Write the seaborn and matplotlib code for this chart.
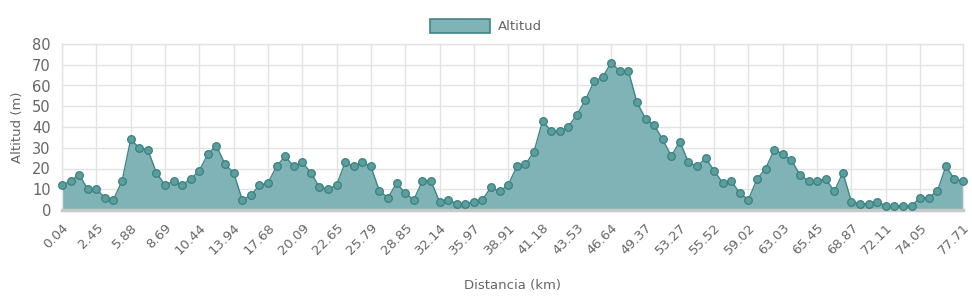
import matplotlib
matplotlib.use("Agg")
import matplotlib.pyplot as plt
import seaborn as sns
import pandas as pd
from matplotlib.patches import Patch

altitude = [12, 14, 17, 10, 10, 6, 5, 14, 34, 30, 29, 18, 12, 14, 12, 15, 19, 27, 31, 22,
            18, 5, 7, 12, 13, 21, 26, 21, 23, 18, 11, 10, 12, 23, 21, 23, 21, 9, 6, 13,
            8, 5, 14, 14, 4, 5, 3, 3, 4, 5, 11, 9, 12, 21, 22, 28, 43, 38, 38, 40,
            46, 53, 62, 64, 71, 67, 67, 52, 44, 41, 34, 26, 33, 23, 21, 25, 19, 13, 14, 8,
            5, 15, 20, 29, 27, 24, 17, 14, 14, 15, 9, 18, 4, 3, 3, 4, 2, 2, 2, 2,
            6, 6, 9, 21, 15, 14]
tick_labels = ["0.04", "2.45", "5.88", "8.69", "10.44", "13.94", "17.68", "20.09", "22.65",
               "25.79", "28.85", "32.14", "35.97", "38.91", "41.18", "43.53", "46.64", "49.37",
               "53.27", "55.52", "59.02", "63.03", "65.45", "68.87", "72.11", "74.05", "77.71"]
n = len(altitude)
tick_pos = list(range(0, n - 5, 4)) + [n - 1]

df = pd.DataFrame({"punto": range(n), "Altitud": altitude})

sns.set_theme(style="white")
plt.rcParams["font.family"] = ["DejaVu Sans"]
txt = "#666666"

fig = plt.figure(figsize=(9.72, 2.99), dpi=100)
ax = fig.add_axes([62 / 972, 89 / 299, (963 - 62) / 972, (210 - 44) / 299])

fill_c = "#80b3b5"
line_c = "#3d8686"
ax.fill_between(df["punto"], df["Altitud"], 0, color=fill_c, linewidth=0, zorder=2)
sns.lineplot(data=df, x="punto", y="Altitud", ax=ax, color=line_c, linewidth=1.0,
             marker="o", markersize=5.5, markerfacecolor="#5c9e9d",
             markeredgecolor="#3a8080", markeredgewidth=0.9, zorder=5, clip_on=False)

ax.set_xlim(0, n - 1)
ax.set_ylim(0, 80)
ax.set_yticks(range(0, 81, 10))
ax.set_xticks(tick_pos)
ax.set_xticklabels(tick_labels, rotation=45, ha="right", rotation_mode="anchor")
ax.tick_params(axis="both", colors="#d9d9d9", labelcolor=txt, length=5, width=1)
ax.tick_params(axis="y", labelsize=10.5, pad=3)
ax.tick_params(axis="x", labelsize=9.5, pad=3)
ax.grid(True, color="#e3e3e3", linewidth=1, zorder=0)
ax.set_axisbelow(True)
for s in ["top", "right", "left"]:
    ax.spines[s].set_color("#e3e3e3")
    ax.spines[s].set_linewidth(1)
ax.spines["bottom"].set_color("#c8c8c8")
ax.spines["bottom"].set_linewidth(2.5)
ax.spines["bottom"].set_zorder(4)

ax.set_xlabel("")
ax.set_ylabel("")
fig.text(512 / 972, 1 - 285 / 299, "Distancia (km)", color=txt, fontsize=9.5,
         ha="center", va="center")
fig.text(17 / 972, 1 - 127 / 299, "Altitud (m)", color=txt, fontsize=9.5,
         ha="center", va="center", rotation=90)

handle = Patch(facecolor=fill_c, edgecolor=line_c, linewidth=1.2, label="Altitud")
fig.legend(handles=[handle], loc="center", bbox_to_anchor=(0.5, 1 - 26 / 299),
           frameon=False, fontsize=9.5, handlelength=4.6, handleheight=1.3,
           handletextpad=0.6, labelcolor=txt)

fig.savefig("out.png", dpi=100)
